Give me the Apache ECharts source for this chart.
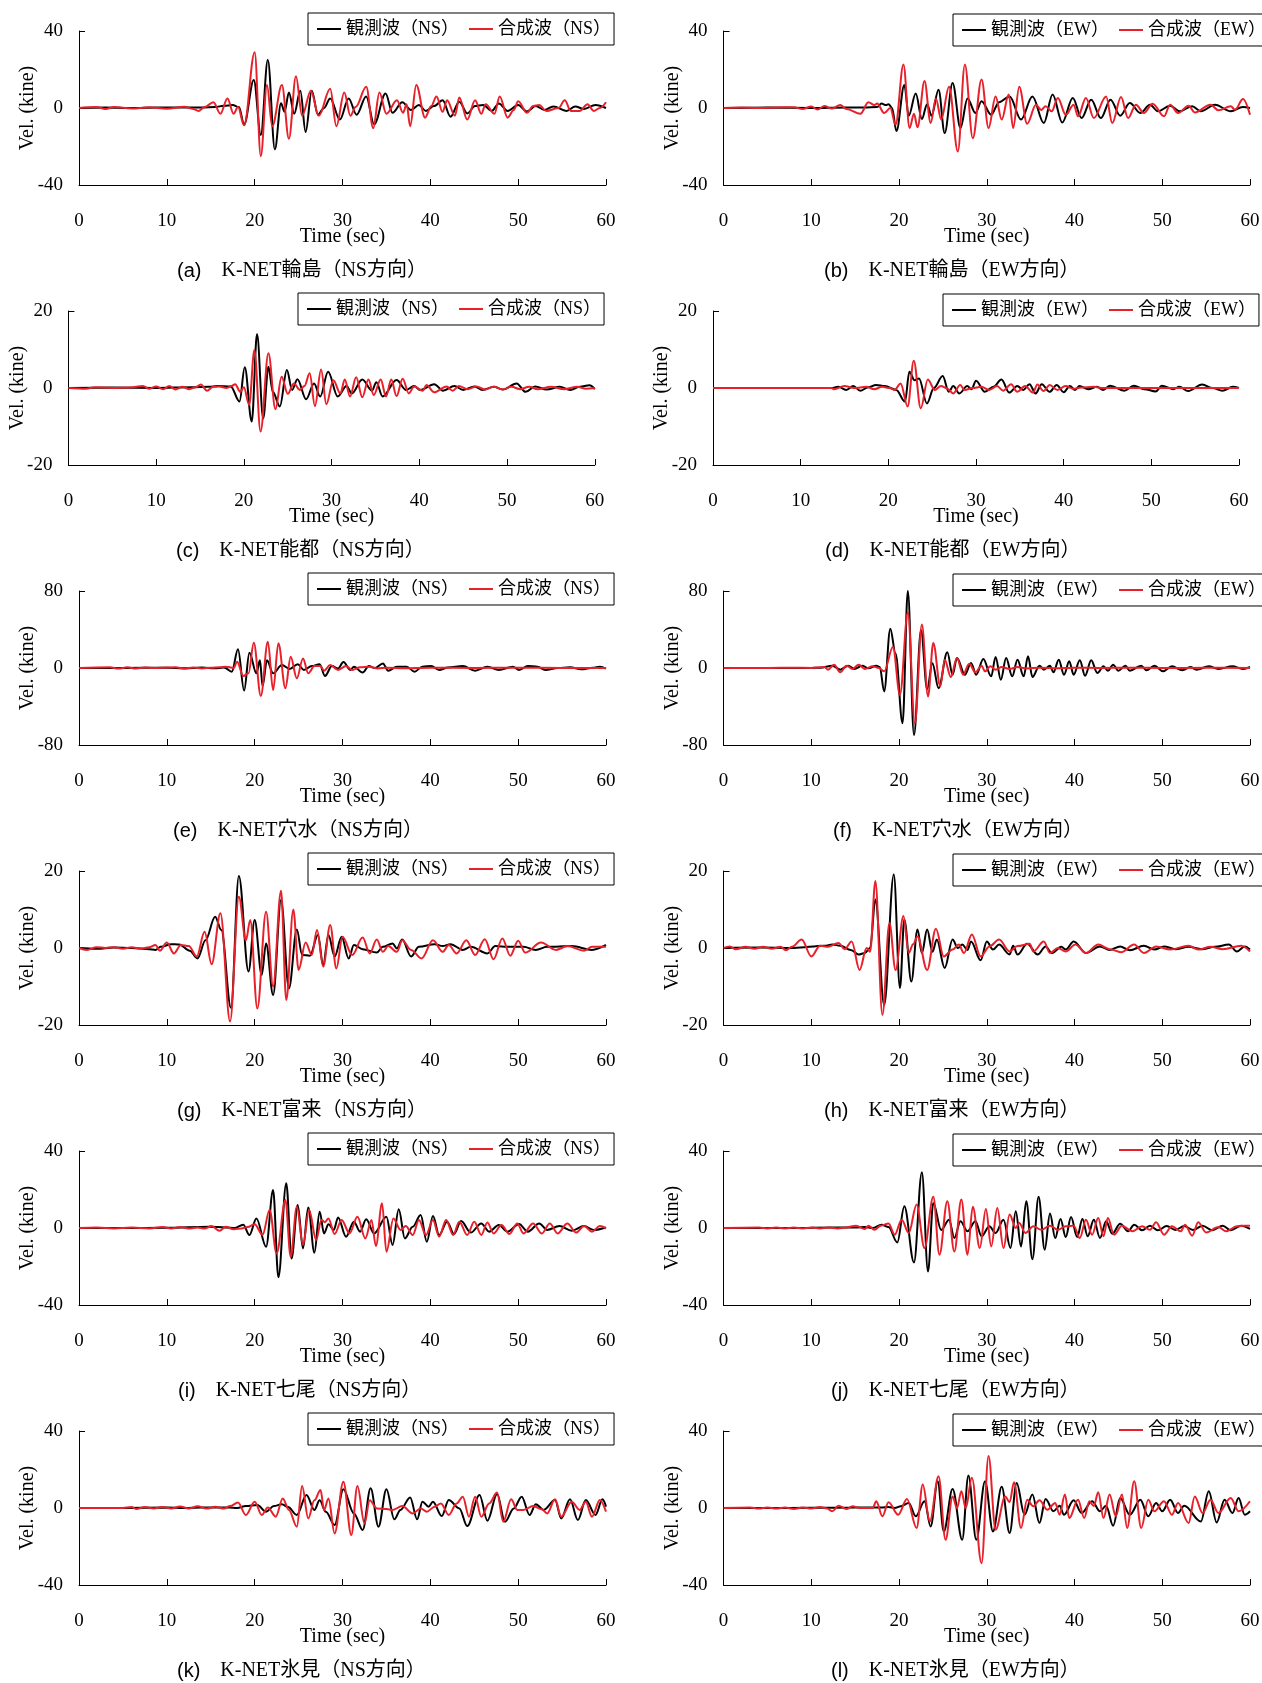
<!DOCTYPE html>
<html><head><meta charset="utf-8">
<script src="https://cdn.jsdelivr.net/npm/echarts@6/dist/echarts.min.js"></script>
<style>html,body{margin:0;padding:0;background:#fff}#c{width:1262px;height:1683px}</style>
</head><body><div id="c"></div>
<script>
// ---------- data (time [s], velocity [kine]) ----------
const wajimaNsObs = [[0,0],[3,0.3],[6,0],[9,0.3],[12,0.2],[14,0.3],[15.5,0.5],[16.5,1.2],[17.5,1.5],[18.2,0.5],[18.8,-8.5],[19.9,14.5],[20.7,-14],[21.5,25],[22.3,-21.5],[23,2.5],[23.4,-2],[23.9,8],[24.5,-3],[25.2,9],[25.8,-12.5],[26.5,9],[27.2,-3.5],[27.9,0],[28.6,5],[29.7,-6],[30.7,5],[31.6,-3.5],[32.7,6],[33.6,-8.5],[34.9,7.5],[35.7,-2.5],[36.8,3],[37.8,-1],[38.7,1.5],[39.5,-1.5],[40.4,1],[41.4,4],[42.3,-4.5],[43.3,3.3],[44.2,-2.8],[45.1,1],[46,1.6],[47,-1.5],[47.8,2.4],[48.8,-1.5],[50,1.5],[51,-1.8],[52,1],[53,-1],[54,0.8],[55.5,-1.5],[56.5,0.8],[57.5,-0.5],[58.8,1.6],[60,0]];
const wajimaNsSyn = [[0,0],[2,0.5],[3,-0.5],[4,0.5],[6,-0.3],[8,0.4],[10,-0.4],[12,0.6],[13,-0.5],[13.6,-1.5],[14.3,0.5],[15.3,3],[16.1,-3],[16.9,5],[17.6,-3],[18.1,0.5],[18.8,-9],[20,29],[20.7,-25],[21.4,12],[22,-9.5],[23.1,12],[23.9,-16],[24.7,16.5],[25.4,-4],[26.4,9],[27.3,-4],[28.6,10],[29.3,-9.5],[30.2,8],[30.9,-4],[31.5,0.5],[32.7,11],[33.5,-10.5],[34.2,8],[35,-3],[36.2,4],[36.9,-2.5],[37.3,2],[37.7,-9.5],[38.4,12],[39.4,-5],[40.1,1],[40.7,6],[41.4,-2],[41.9,4],[42.8,-4],[43.3,5.5],[44.2,-6],[45.1,4],[45.8,-3],[46.3,2],[47.3,-3],[47.9,6],[48.8,-5],[49.5,-1],[50,3.5],[51,-2.5],[51.7,1],[52.4,1.5],[53.2,-1.5],[54.6,0],[55.3,4],[56,-1.5],[57,-1.5],[57.9,2],[58.6,-1.5],[59.3,0],[60,3]];
const wajimaEwObs = [[0,0],[5,0.2],[10,0],[14,0.3],[16,0.2],[17.5,0.5],[18,2.3],[18.5,1.5],[18.8,2],[19.2,0],[19.7,-12],[20.6,12],[21.1,-4],[21.9,7.5],[22.6,-5.7],[23.2,2],[23.7,-4],[24.5,9.5],[25.2,-13],[26.1,13],[27,-10.4],[27.8,5],[28.7,-2.6],[29.4,3.5],[30.5,-3.5],[31.4,3],[32.6,6],[33.9,-6],[35.2,6],[36.5,-7.8],[37.5,7],[38.6,-7.5],[39.8,5.2],[40.8,-5.2],[41.9,4.3],[43,-5.2],[44.1,4.3],[45.2,-4],[46.3,2.6],[47.5,-2.6],[48.6,1.7],[49.5,-1.7],[50.9,1.2],[52,-1.7],[53.4,0.9],[54.4,-1.7],[56,1.7],[57.8,-1.7],[59.2,0.5],[60,0]];
const wajimaEwSyn = [[0,0],[2,0.3],[4,0],[6,0.3],[8,0.4],[9,-0.5],[10,0.8],[10.7,-0.8],[11.5,1],[12.3,-0.3],[13.3,1.5],[14,-0.5],[15.6,-3],[16.5,3],[17.2,1.5],[17.5,2.3],[18.3,-2.6],[19,0],[19.6,-8.7],[20.5,22.6],[21.2,-10.4],[21.7,-3],[22.1,-10],[22.9,14],[23.6,-7.8],[24.2,5],[24.8,-6],[25.7,11],[26.7,-22.6],[27.5,22.6],[28.4,-15.7],[29.4,14.8],[30.2,-10.4],[31,6],[31.7,-6],[32.5,7],[33,-10.4],[33.7,11],[34.6,-8.2],[35.6,1.7],[36.2,-1],[36.7,0.9],[37.4,-1.7],[38.1,5.2],[39,-3.5],[39.9,1.7],[40.4,-4.3],[41.3,5.2],[42.2,-5.2],[43.6,6],[44.3,-7.8],[45.3,5.7],[46.1,-5.2],[47,1.7],[47.9,-2.6],[48.9,2.2],[50.2,-4.3],[50.9,1.7],[51.8,-2.6],[53,1.2],[53.7,-2.3],[55.5,1.7],[56.4,-1.2],[57.8,0.9],[58.3,-0.9],[59.2,4.7],[60,-3.5]];
const notoNsObs = [[0,0],[5,0.1],[10,0],[14,0.2],[16,0.3],[17,0.5],[18.5,0.4],[19.5,-3.5],[20.1,5.4],[20.9,-8.7],[21.5,14],[22.2,-7.9],[22.8,5.5],[23.3,-1],[24.1,-4.8],[24.9,4.7],[25.5,-0.5],[26.1,2.3],[27.1,-2.9],[28,1.2],[28.7,-2.2],[29.6,4.2],[30.7,-2.2],[31.7,0.5],[32.3,-1.4],[33.5,2.2],[34.6,-0.7],[35.1,1.5],[35.8,-2.2],[37.4,2.1],[38.5,-0.5],[39.4,0.5],[40.1,-0.5],[41.7,1],[42.7,-0.7],[44,0.5],[45,-0.5],[46.3,0.4],[47.2,-0.5],[48.5,0.3],[49.5,-0.4],[51.1,1.2],[52.1,-1],[53.2,0.4],[54.5,-0.4],[56,0.3],[57.2,-0.5],[58.3,0.3],[59.4,0.7],[60,-0.3]];
const notoNsSyn = [[0,0],[2,-0.2],[3,0.2],[5,0],[7,0.1],[8.5,0.5],[9.2,-0.2],[10,0.4],[10.8,-0.3],[11.5,0.5],[12.2,-0.4],[13,0.3],[13.8,-0.3],[14.5,0.2],[15.1,0.9],[15.8,-0.7],[16.5,0.3],[17.2,0.4],[18,0],[18.6,0.5],[19,1],[19.6,-1],[20,0.2],[20.6,-4.4],[21.2,9.9],[21.9,-11.3],[22.8,9],[23.6,-5.5],[24.3,2.9],[25,-1.5],[25.7,1.2],[26.4,-0.5],[26.9,0.5],[27.5,3.8],[28.1,-4.7],[28.8,4.8],[29.4,-4.2],[30.2,2],[31,-1.4],[31.5,2.2],[32.1,-2.2],[32.8,2.8],[33.5,-2.4],[34.2,2.2],[34.8,-1.8],[35.6,2.2],[36.2,-2.2],[36.8,2.2],[37.4,-2.1],[38.1,2.4],[38.8,-1.4],[39.4,0.4],[40.4,-0.7],[40.8,0.8],[41.7,-1.1],[43.1,0.4],[43.8,-0.7],[44.5,0.5],[45.5,-0.3],[46.5,0.4],[47.5,-0.4],[48.5,0.3],[49.5,-0.4],[50.5,0.3],[51.5,-0.3],[52.5,0.3],[53.5,-0.3],[55,0.3],[56.5,-0.3],[58,0.3],[59,-0.2],[60,0]];
const notoEwObs = [[0,0],[13.5,0],[14.3,0.3],[15.2,-0.5],[16,0.5],[16.8,-0.7],[17.7,0.2],[18.6,0.8],[19.6,0.5],[20.9,-0.5],[21.9,-3.5],[22.4,4.2],[23,2],[23.5,2.5],[24.4,-4],[25.2,0],[26.2,3.1],[26.9,-1],[27.4,0.5],[28.1,-1.4],[29,0.5],[29.5,-0.3],[30,1.9],[31,-1],[32,0.3],[32.9,2.2],[33.8,-1.2],[34.7,0.5],[35.4,-0.5],[36.1,1],[36.8,-1.4],[37.5,1],[38.4,-1],[39.2,0.8],[40,-1.1],[40.7,0.5],[41.3,-0.5],[41.8,0.5],[42.8,-0.3],[43.8,0.3],[44.5,-0.5],[45.3,0.6],[46.9,-0.7],[48,0.6],[49.2,-0.3],[50.5,-0.9],[51.2,0.6],[52.5,-0.3],[53.2,0.3],[54.2,-0.8],[55.8,0.9],[57,0],[58.1,-0.7],[59.3,0.3],[60,0]];
const notoEwSyn = [[0,0],[13.5,0],[13.8,-0.3],[15,0.5],[16.1,0],[17.5,0.3],[18.4,-0.3],[19.3,0.3],[20.2,0],[20.7,-0.5],[21.4,1.2],[22.2,-4.8],[22.9,7.1],[23.7,-5.3],[24.5,2.2],[25.3,-0.5],[26,0.5],[26.7,-0.1],[27.4,-1.4],[28.2,0.8],[28.7,-0.5],[29.6,0],[30.6,0.3],[31.5,-0.5],[32.4,0.5],[33.1,-0.7],[34,1],[34.7,-1],[35.6,0.5],[36.5,-1.2],[37,0.9],[37.7,-0.8],[38.4,0.8],[39.3,-0.5],[40.2,0.5],[41.1,-0.2],[42,0.1],[43.4,0.3],[44.5,0],[52,0],[60,0]];
const anamizuNsObs = [[0,0],[5,0],[10,0.3],[12,-0.3],[14,0.5],[15.5,-0.3],[16.5,0.5],[17.4,-3.8],[18.1,19.4],[18.8,-23.5],[19.4,15.9],[20.2,-5.5],[20.6,8],[20.9,-18.7],[21.4,8],[22.1,-5.5],[23.1,3],[24,-1],[24.9,4],[25.6,-2],[26.5,2],[27.4,4],[28,-8.3],[28.8,2],[29.5,-0.5],[30.1,6.2],[30.9,-2],[31.3,1.4],[32.3,-4.8],[33,2],[33.7,0],[34.6,4.8],[35.2,-2.8],[36.2,1.4],[37.3,1.4],[38.2,-3.8],[39.1,1.4],[40.1,2],[41,-2],[42,0.5],[43.7,2],[45.1,-2.8],[46.5,1.4],[47.8,-2],[49.4,1.4],[50.1,-2],[51.1,2],[52.2,1.4],[53.1,-2],[54.5,0],[55.9,0.7],[57.2,-1.4],[58.5,0.3],[59.3,1.4],[60,-0.7]];
const anamizuNsSyn = [[0,0],[3.5,0.7],[4.5,-0.5],[5.5,0.7],[6.5,-0.5],[7.5,0.5],[8.5,0],[10,0.5],[11,0.7],[12,-0.7],[13,0.5],[14,-0.5],[15,0.3],[16,0.7],[16.7,1.4],[17.6,0],[18,6.6],[18.7,-8.3],[19.3,-5.5],[19.9,26.3],[20.7,-29],[21.5,27.4],[22.1,-22.9],[22.7,25.6],[23.5,-21],[24.1,11.8],[24.8,-10.7],[25.5,10],[26.1,-5.5],[26.8,2],[27.5,2],[27.9,-2.8],[28.6,3],[29.5,-2],[30.4,2],[31.1,-2],[32,0.7],[33,1.4],[34,-0.5],[35,0.3],[37,-0.3],[40,0.3],[45,0],[50,0.3],[55,0],[60,0]];
const anamizuEwObs = [[0,0],[10,0],[11,0.3],[12.4,2.4],[13.3,-1.7],[14.2,2.4],[14.9,-1],[15.8,2.4],[16.5,-0.3],[17.4,2.4],[17.8,1],[18.3,-24.3],[19,40.7],[19.6,15],[20.4,-57.4],[21,80],[21.7,-69.6],[22.5,39.3],[23.2,-22],[23.8,5],[24.5,-21],[25.5,16.3],[26.1,-7],[26.6,10.4],[27.5,-7],[28.2,5.2],[28.8,-7],[29.6,9.4],[30.5,-8.7],[31,11.5],[31.6,-12.2],[32.2,10.4],[32.9,-8.7],[33.5,8.7],[34.2,-8.7],[34.7,12.2],[35.2,-9.4],[36,2.4],[36.5,-1.7],[37.2,2.4],[37.6,-4.5],[38.2,8.7],[38.8,-7],[39.4,7],[39.9,-7],[40.6,8],[41.2,-8],[41.9,8],[42.6,-5.2],[43.3,1.7],[43.8,-2.8],[44.4,3.5],[45,-2.8],[45.8,2.4],[46.3,-2.8],[47.6,2.4],[48.2,-2.4],[49.1,2.4],[50.1,-3.5],[51.1,1.7],[52.3,-2.4],[53.2,1],[53.9,-1.7],[55.3,1.7],[56.4,-1],[58,1.7],[59.2,-1],[60,1]];
const anamizuEwSyn = [[0,0],[5,0],[8,0.3],[10,0],[11.5,1],[11.9,-1.7],[12.6,3.5],[13.3,-4.5],[14,2.4],[14.7,-1],[15.4,3.5],[16.1,-1],[17,1.7],[17.7,0],[18.3,-3.5],[19.3,21.9],[20.1,-27.8],[21,58],[21.8,-57.4],[22.6,45.2],[23.3,-29.6],[23.9,26],[24.7,-19],[25.2,8.7],[25.9,-9.4],[26.6,10.4],[27.3,-7],[28,4.5],[28.7,-4.5],[29.4,2.4],[29.8,-3.5],[30.4,1.7],[31,-1.7],[31.7,1],[32.6,-1],[33.5,1],[34.5,-0.5],[36,0.3],[38,-0.3],[40,0.3],[43,0],[46,0.3],[50,0],[55,0.2],[60,0]];
const tomikuNsObs = [[0,0],[2,-0.2],[4,0.1],[6,0],[8,-0.3],[8.7,-0.5],[9.3,0.3],[10.5,1],[11.4,0.9],[12.6,-0.7],[13.5,-2.7],[14.4,2],[15.5,8.1],[16.2,4.7],[17.3,-15.5],[18.2,18.7],[19.3,-6.1],[20,7.3],[20.8,-7],[21.3,1.2],[22.1,-12.2],[23,12.5],[23.9,-10.5],[24.8,4.8],[25.4,-1.8],[26.3,-2],[27.2,3.4],[27.8,-4.4],[28.4,3.4],[29.1,-2.2],[29.9,2.9],[30.7,-2.7],[31.3,0.8],[32.3,-0.3],[33.9,-1.2],[34.6,0.3],[35.7,1.2],[36.2,-0.1],[36.8,2.2],[37.8,-2.2],[38.7,0.3],[40.5,1],[41.4,0.5],[42.3,1],[43.7,-0.5],[44.6,0.3],[46.5,-1.4],[47.4,0.5],[48.8,0.3],[50.6,0.3],[52,-0.5],[53.3,0.3],[56.1,0.5],[58.4,-0.5],[60,0.8]];
const tomikuNsSyn = [[0,0],[0.9,-0.5],[2,0.2],[3,0],[4,0.2],[5,-0.2],[6,0.2],[7,-0.2],[8,0.2],[8.7,0.8],[9.2,-0.7],[10,1.4],[10.8,-1.4],[11.6,0.8],[12.5,0.5],[13.4,-2.2],[14.3,4.2],[15.1,-4.2],[16.1,9],[17.2,-19.1],[18.2,13.3],[19,2],[19.5,7.3],[20.3,-15.7],[21.3,9.4],[22.1,-10],[23,14.9],[23.6,-13.5],[24.4,10],[25,-5.7],[25.8,1.4],[26.5,-1.8],[27.1,4.7],[27.8,-4.8],[28.6,6],[29.3,-5.3],[30,2.9],[31.1,-1.8],[32.3,2.7],[33.1,-1.4],[33.9,2.2],[34.6,-1],[35.2,0.5],[36.2,-1],[36.8,2],[37.8,-0.5],[39,-2.7],[40.3,2],[41.4,-1],[42.1,0.8],[43,-1.4],[44.1,2],[45.1,-1.8],[46.2,2.3],[47.2,-2.9],[48.2,2.5],[49.1,-2],[50,1.9],[50.8,-1.2],[52.6,1.4],[54.3,-0.5],[55.6,0.5],[57.5,-0.7],[58.4,0.3],[60,0.3]];
const tomikuEwObs = [[0,0],[4,0.1],[8,0],[11.5,0.6],[12.4,0.9],[13.3,0.6],[14.5,-0.5],[15.4,-1.7],[16.1,-1.3],[16.7,0],[17.3,12.6],[18.3,-14.8],[19.4,19.1],[20.1,-10.4],[20.6,7.4],[21.4,-8.7],[22.1,4.8],[22.6,-1.3],[23.2,4.8],[23.8,-1],[24.3,2.2],[25.2,-5.2],[26.1,2.2],[26.7,0],[27.2,0.9],[27.8,-0.5],[28.2,1.7],[29.3,-3.2],[30,1.7],[30.7,-0.4],[31.4,0.9],[32.6,-1.7],[33,0.6],[33.5,-1.7],[34.6,1.1],[35.8,-1.7],[36.7,0.4],[37.4,-1.3],[38.5,0.3],[39,-0.4],[39.9,1.7],[41.3,-1.3],[42.9,0.4],[44,-0.5],[45.2,0.4],[46.3,-0.6],[47.9,0.6],[49.1,-0.4],[50.2,0.4],[51.5,-0.3],[53,0.3],[54.5,-0.3],[56,0.3],[57.6,0.9],[58.5,-0.9],[59.4,0.4],[60,-0.4]];
const tomikuEwSyn = [[0,0],[0.7,0.4],[1.4,-0.3],[2.5,0.3],[3.5,-0.2],[4.5,0.3],[5.5,-0.2],[6.5,0.3],[7.1,-0.6],[7.8,0.3],[8.9,2.2],[10,-2.2],[11,0.6],[11.9,0.3],[13.1,1.3],[13.8,-0.3],[14.6,1.7],[15.5,-5.7],[16.3,0],[16.7,-1],[17.3,17.4],[18.1,-17.4],[18.9,6.5],[19.6,-5.7],[20.5,8.3],[21.1,-1.3],[21.6,1],[22.1,3],[23.2,-5.7],[24.2,5],[25.1,-2.2],[26.1,-0.4],[26.8,0.9],[27.4,-1.3],[28.3,3.5],[29.3,-2.2],[30.3,0.4],[31.4,2.2],[32.6,-0.9],[33.5,0.5],[34.9,1.1],[35.3,-0.9],[36.5,1.7],[37.2,-1.3],[38.1,0],[39,-0.9],[40.1,0.9],[41.3,-1.3],[42.7,0.9],[44,-0.3],[45.3,-1.1],[46.8,0.9],[47.9,-1.3],[49.3,0.4],[50.9,-0.4],[53,0.6],[54.1,-0.4],[55.5,0.3],[56.9,-0.3],[59,0.6],[60,-0.9]];
const nanaoNsObs = [[0,0],[5,0],[10,0.1],[14.8,0.7],[16.7,0.3],[17.7,0],[18.7,1.7],[19.4,-3.6],[20.2,5],[21.3,-9.7],[22.1,19.7],[22.7,-25.6],[23.6,23.2],[24.2,-15.8],[24.9,12],[25.5,-10.6],[26.1,10.7],[26.8,-12.8],[27.4,8.5],[27.9,-2.8],[28.4,2],[29,-1],[29.5,5.5],[30.4,-4.5],[31.3,3.3],[32,-1.9],[32.7,4.5],[33.6,-2.8],[35,5.9],[35.7,-8.8],[36.4,9.7],[37.1,-5.4],[38,0.7],[38.9,6.8],[39.6,-7.1],[40.3,6.2],[41,-3.6],[41.9,3.3],[42.7,-3.1],[43.5,3.6],[44.6,-2.4],[45.8,2.4],[46.7,-1.9],[47.8,1.6],[48.8,-1.9],[50.1,2.1],[51.1,-1.9],[52.4,2.4],[53.3,-1],[54.7,1],[56.1,-1.4],[57.5,1],[58.6,-1],[60,0.3]];
const nanaoNsSyn = [[0,0],[2,0.3],[4,-0.2],[6,0.3],[8,-0.2],[9.5,0.5],[10.5,-0.3],[11.5,0.5],[12.5,-0.3],[13.5,0.3],[14.3,-0.3],[15.1,1],[16,-1.4],[16.7,0.7],[17.6,-0.7],[18.5,-0.2],[19.2,0.5],[20,2],[20.9,-3.6],[21.7,9.4],[22.5,-13.2],[23.5,14.5],[24.1,-14.9],[24.8,11],[25.5,-8.8],[26.2,9.4],[27,-6.2],[27.6,4.2],[28,3],[28.4,5],[29.1,-3.1],[29.9,4.2],[30.8,-2.8],[31.7,5.9],[32.6,-5.4],[33.3,4.2],[33.8,-9.4],[34.5,12.8],[35,-12.3],[35.8,5],[36.6,-1],[37.2,1],[38,-3.6],[38.7,4.2],[39.5,-3.6],[40.3,4.2],[41,-4.5],[41.8,4.2],[42.6,-3.6],[43.3,3.3],[44.2,-3.6],[45,3.3],[45.8,-3.6],[46.5,2.8],[47.2,-2.8],[48.1,1.6],[49,-3.1],[49.9,2.4],[50.6,-2.8],[51.7,2.4],[52.7,-2.8],[53.6,2.4],[54.5,-2.8],[55.6,2.4],[56.6,-2.4],[57.5,1],[58.4,-1.9],[59.3,1],[60,-0.2]];
const nanaoEwObs = [[0,0],[5,0],[10,0.1],[15,0.3],[16.1,0.5],[17,0],[18,1.7],[18.8,0.5],[19.8,-7.5],[20.6,11.3],[21.7,-17.9],[22.6,29],[23.3,-22.6],[23.9,13],[24.8,-1],[25.7,4.3],[26.3,-5.2],[27,3.5],[27.8,-1.7],[28.7,3.5],[29.4,-4.3],[30.3,0.9],[31,-2.6],[31.9,4.3],[32.7,-10.4],[33.3,8.7],[33.9,-9.6],[34.5,13.9],[35.2,-16.2],[35.9,16.2],[36.6,-11.3],[37.2,7.5],[37.8,-5.2],[38.4,4.7],[39,-4.7],[39.6,5.7],[40.3,-4.7],[40.9,4.7],[41.5,-4.3],[42.2,4.3],[42.9,-5.2],[43.6,3.5],[44.3,-3],[45.2,2.2],[46.1,-1.7],[46.8,1.7],[47.7,-1.2],[48.6,1.2],[49.5,-1.2],[50.5,1],[51.5,-1],[52.5,1],[53.5,-1],[54.6,1.2],[55.7,-1.2],[56.9,1.2],[57.8,-1.2],[59,1.2],[60,-0.5]];
const nanaoEwSyn = [[0,0],[4,0.3],[5,-0.2],[6,0.3],[7,-0.2],[8,0.3],[9,-0.2],[10,0.3],[11,-0.2],[12,0.3],[13,-0.2],[14,0.3],[15.1,1.2],[16.1,-0.5],[16.5,1.2],[17.2,-0.9],[17.9,1.2],[18.8,2.3],[19.5,-3.5],[20.3,4.3],[21.1,-2.6],[22,12.2],[22.9,-10.4],[23.9,16.2],[24.6,-13.9],[25.5,13.9],[26.3,-12.2],[27.1,14.8],[27.8,-13.9],[28.4,11],[29.2,-10.4],[29.9,9.9],[30.5,-9.6],[31.2,10.4],[31.9,-10.4],[32.6,7],[33.3,0],[33.7,2.6],[34.4,-2.6],[35.3,0.9],[36.2,-0.9],[37.2,1.2],[38.1,-0.9],[39,0.9],[39.9,1.2],[40.6,-5.2],[41.3,4.3],[42,-3.5],[42.7,5.2],[43.3,-4.3],[43.8,5.2],[44.5,-3.5],[45.4,1.2],[46.6,-1.7],[47.7,0.9],[48.6,-0.9],[49.3,3],[50.2,-3.5],[51.1,0.9],[52.1,-1.7],[52.6,1.7],[53.4,-4],[54.1,3],[55,-2.3],[56.4,0.5],[57.3,-1.7],[58.5,0.9],[59.4,1.2],[60,1.2]];
const himiNsObs = [[0,0],[5,0],[10,0.2],[12,0],[14,0.3],[16,0.2],[17.1,0.3],[18,0],[19,1],[20.3,1.6],[21.3,-1.9],[22.2,1],[23.1,2],[23.8,0.5],[24.8,-3.6],[25.9,6.8],[26.8,-1],[27.4,4],[28.1,-2],[29.1,-8.8],[30.1,9.7],[31.3,-2.8],[32.3,-11.4],[33.2,10.2],[34.1,-9.7],[35,9.7],[35.9,-5.9],[36.6,-1],[37.7,5.5],[38.5,-5.9],[39.1,3.3],[39.8,0.7],[40.3,3.3],[41.3,-4.2],[42.1,4.2],[43.3,-0.2],[44.2,-9.4],[45.6,6.8],[46.5,-6.6],[47.6,7.3],[48.5,-7.1],[49.5,-0.2],[50.4,5.9],[51.3,-3.6],[52,2],[52.9,-1],[54.2,4.2],[54.9,-5.4],[55.9,4.5],[56.8,-6.2],[57.7,4.2],[58.8,-3.6],[59.6,4.5],[60,0.7]];
const himiNsSyn = [[0,0],[5,0],[6,0.5],[6.5,-0.5],[7.5,0.5],[8.5,-0.3],[9.5,0.5],[10.5,-0.3],[11.5,0.8],[12.5,-0.3],[13.5,0.9],[14.5,-0.3],[15.5,0.6],[16.5,-0.3],[17.2,1],[18.1,2.8],[19,-3.6],[20,3.3],[20.8,-3.6],[21.5,0.3],[22.4,-4.5],[23.2,5],[23.9,-1],[24.8,-9.7],[25.4,11.4],[26.1,-5.4],[26.8,4],[27.5,9.4],[27.9,-1],[28.4,5],[29.1,-13.2],[30.1,13.7],[31,-14],[31.7,11.4],[32.5,-8],[33.1,4],[33.9,-0.2],[35,-0.5],[35.7,-1],[36.8,1],[38,-2.8],[38.9,-0.2],[39.6,-1.9],[40.5,0.7],[41.2,2.4],[42.1,-3.6],[43,2.4],[43.7,5.9],[44.4,-4.5],[45.1,5.9],[45.8,-4.5],[46.7,2.4],[47.6,8],[48.3,-7.1],[49.2,4.5],[49.9,-1],[50.6,-1],[51.7,1],[52.7,-0.7],[53.3,-2.8],[54.2,4.5],[54.9,-4.5],[56.1,3.3],[57,-1],[57.7,3.3],[58.4,-4.5],[59.3,4.2],[60,-1.9]];
const himiEwObs = [[0,0],[5,0],[10,0.1],[15,0.2],[18,0.3],[18.8,0.5],[19.5,0],[20.2,0.9],[21.1,2.6],[21.9,-4.3],[22.9,3.5],[23.6,-9.6],[24.4,13.9],[25.1,-12.2],[26.1,9.9],[27.2,-16.5],[27.9,16.9],[28.8,-16.5],[29.8,13.9],[30.7,-12.2],[31.7,11],[32.6,-13],[33.4,13],[34.3,-3.5],[35.2,7],[36,-7.8],[36.7,4.7],[37.6,-1.7],[38.3,1.2],[38.8,-3.5],[39.9,4],[40.8,-2.6],[42,3.5],[42.9,-1.7],[43.6,1.2],[44.4,-9.2],[45.2,5.2],[46.3,-3.5],[47.5,4.3],[48.4,-4.3],[49.3,2.6],[50,-1.7],[50.9,4.3],[51.8,-2.6],[52.5,1.2],[54.4,-7],[55.3,8.7],[56.2,-7.5],[57.1,4.3],[58,-2.6],[58.7,5.2],[59.4,-3.5],[60,-1.7]];
const himiEwSyn = [[0,0],[3,0.3],[4,-0.3],[5,0.3],[6,-0.3],[7,0.3],[8,-0.5],[9,0.3],[10,-0.3],[11,0.5],[11.8,-0.3],[12.4,-1.7],[13.1,1.2],[14,-0.5],[14.7,0.9],[15.5,0],[17,0],[17.4,3.5],[18.1,-4.3],[18.8,3],[19.9,-3.5],[20.9,4.7],[22,-10.4],[22.7,12.2],[23.5,-7],[24.5,16.5],[25.3,-16.5],[26.1,6],[26.6,0],[27.1,8.7],[27.6,0],[28.3,15.7],[29.4,-28.7],[30.2,27],[31,-11.3],[32.1,6],[32.6,3],[33.1,13.4],[33.9,-10.4],[34.6,4.3],[35.3,0.9],[36,4],[36.9,-0.9],[37.8,2.6],[38.3,-3.5],[38.9,7],[39.4,-5.2],[40.4,4.3],[41.1,-5.2],[41.7,3.5],[42.2,1],[42.7,8.2],[43.3,-5.2],[44,7],[44.7,-4.3],[45.4,7],[46,-10.4],[46.8,13.9],[47.6,-10.4],[48.4,4.3],[49.1,-1.7],[50.2,3.5],[51.1,-3.5],[51.8,2.6],[53,-7.8],[53.7,6],[54.6,-2.6],[55.5,4.3],[56.4,-2.6],[57.8,5.2],[58.7,-1.7],[60,3.5]];

const panelLetters = ['a','b','c','d','e','f','g','h','i','j','k','l'];
const stations = ['輪島','輪島','能都','能都','穴水','穴水','富来','富来','七尾','七尾','氷見','氷見'];
const directions = ['NS','EW','NS','EW','NS','EW','NS','EW','NS','EW','NS','EW'];
const yLimits = [40,40,20,20,80,80,20,20,40,40,40,40];
const xTickStep = 10;
const obsData = [wajimaNsObs,wajimaEwObs,notoNsObs,notoEwObs,anamizuNsObs,anamizuEwObs,tomikuNsObs,tomikuEwObs,nanaoNsObs,nanaoEwObs,himiNsObs,himiEwObs];
const synData = [wajimaNsSyn,wajimaEwSyn,notoNsSyn,notoEwSyn,anamizuNsSyn,anamizuEwSyn,tomikuNsSyn,tomikuEwSyn,nanaoNsSyn,nanaoEwSyn,himiNsSyn,himiEwSyn];

// ---------- layout ----------
const gridLeft   = [79,723.6,68.4,713,79,723.6,79,723.6,79,723.6,79,723.6];
const gridWidth  = [527,526.4,526.4,526,527,526.4,527,526.4,527,526.4,527,526.4];
const legendLeft = [308,953,298,943,308,953,308,953,308,953,308,953];
const legendTopOff = [13,14,13,14,13,14,13,14,13,14,13,14];
const titleLeft  = [177,824,176,825,173,833,177,824,178,831,177,831];

const SERIF = '"Liberation Serif", "Times New Roman", "Noto Sans CJK JP", serif';
const BLACK = '#000000', RED = '#e8202a';

const chart = echarts.init(document.getElementById('c'), null, {renderer:'canvas', width:1262, height:1683});
const option = {animation:false, backgroundColor:'#ffffff', grid:[], xAxis:[], yAxis:[], series:[], legend:[], title:[]};

panelLetters.forEach((L, i) => {
  const row = Math.floor(i/2);
  const dir = directions[i];
  const obsName = '観測波（' + dir + '）';
  const synName = '合成波（' + dir + '）';
  const ym = yLimits[i];
  option.grid.push({left:gridLeft[i], top:31 + 280*row, width:gridWidth[i], height:154, containLabel:false, outerBoundsMode:'none'});
  option.xAxis.push({
    gridIndex:i, type:'value', min:0, max:60, interval:xTickStep,
    axisLine:{show:true, onZero:false, lineStyle:{color:BLACK, width:1}},
    axisTick:{show:true, inside:true, length:6, lineStyle:{color:BLACK, width:1}},
    axisLabel:{color:BLACK, fontFamily:SERIF, fontSize:19, margin:27},
    splitLine:{show:false},
    name:'Time (sec)', nameLocation:'middle', nameGap:42, nameMoveOverlap:false,
    nameTextStyle:{color:BLACK, fontFamily:SERIF, fontSize:20}
  });
  option.yAxis.push({
    gridIndex:i, type:'value', min:-ym, max:ym, interval:ym,
    axisLine:{show:true, onZero:false, lineStyle:{color:BLACK, width:1}},
    axisTick:{show:true, inside:true, length:6, lineStyle:{color:BLACK, width:1}},
    axisLabel:{color:BLACK, fontFamily:SERIF, fontSize:19, margin:16},
    splitLine:{show:false},
    name:'Vel. (kine)', nameLocation:'middle', nameGap:41, nameMoveOverlap:false,
    nameTextStyle:{color:BLACK, fontFamily:SERIF, fontSize:20}
  });
  option.series.push({
    type:'line', name:obsName, xAxisIndex:i, yAxisIndex:i, data:obsData[i],
    symbol:'none', showSymbol:false, smooth:0.35, smoothMonotone:'x', color:BLACK,
    lineStyle:{color:BLACK, width:2}, z:2
  });
  option.series.push({
    type:'line', name:synName, xAxisIndex:i, yAxisIndex:i, data:synData[i],
    symbol:'none', showSymbol:false, smooth:0.35, smoothMonotone:'x', color:RED,
    lineStyle:{color:RED, width:2}, z:3
  });
  option.legend.push({
    data:[obsName, synName], left:legendLeft[i], top:280*row + legendTopOff[i],
    width:340, orient:'horizontal', icon:'rect', itemWidth:24, itemHeight:2, itemGap:10,
    padding:[7,3,7,9], borderColor:BLACK, borderWidth:1, backgroundColor:'#ffffff',
    selectedMode:false,
    textStyle:{color:BLACK, fontFamily:SERIF, fontSize:18}
  });
  option.title.push({
    text:'{l|(' + L + ')}\u3000K-NET' + stations[i] + '（' + dir + '方向）',
    left:titleLeft[i], top:261 + 280*row, padding:0,
    textStyle:{color:BLACK, fontFamily:SERIF, fontSize:20, fontWeight:'normal',
      rich:{l:{color:BLACK, fontFamily:'"Liberation Sans", Arial, sans-serif', fontSize:20}}}
  });
});

chart.setOption(option);
</script>
</body></html>
